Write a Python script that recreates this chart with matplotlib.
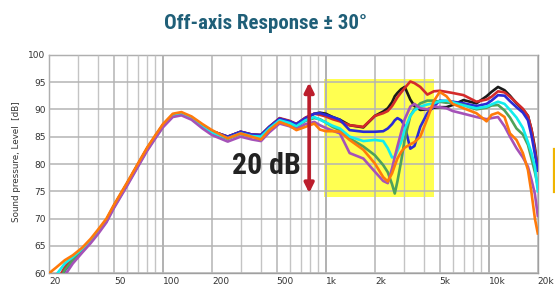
import numpy as np
import matplotlib.pyplot as plt
from matplotlib.lines import Line2D
from matplotlib.ticker import FixedLocator, NullFormatter
from matplotlib import font_manager

# frequency grid (Hz)
freqs = [20, 22, 25, 28, 32, 36, 40, 45, 50, 60,
         70, 80, 90, 100, 115, 130, 150, 175, 200, 250,
         300, 350, 400, 450, 520, 600, 660, 750, 850, 920,
         1000, 1100, 1220, 1400, 1700, 2000, 2250, 2400, 2550, 2650,
         2750, 2900, 3050, 3300, 3500, 3800, 4200, 4600, 5000, 5500,
         6000, 7000, 8400, 9700, 10400, 11400, 12500, 13500, 14800, 16200,
         17400, 18300, 19200, 20000]

# SPL per curve (dB)
black = [55.0, 57.5, 60.8, 62.6, 64.3, 66.0, 67.6, 69.7, 72.3, 76.3,
         79.8, 82.8, 85.1, 87.1, 89.0, 89.3, 88.5, 87.1, 86.0, 85.0,
         85.9, 85.4, 85.3, 86.8, 88.3, 87.8, 87.3, 88.4, 89.2, 89.4,
         89.2, 88.6, 88.1, 87.1, 86.7, 88.8, 89.6, 90.2, 91.3, 92.4,
         93.0, 93.7, 94.1, 91.8, 90.6, 89.9, 90.0, 90.3, 90.4, 90.4,
         90.8, 91.7, 91.1, 92.4, 93.2, 94.1, 93.5, 92.5, 91.1, 90.0,
         88.8, 86.3, 83.0, 78.8]
red = [55.5, 58.0, 61.2, 62.8, 64.4, 66.0, 67.6, 69.7, 72.3, 76.3,
       79.8, 82.8, 85.1, 87.1, 89.0, 89.3, 88.5, 87.1, 86.0, 85.0,
       85.9, 85.4, 85.3, 86.8, 88.4, 87.9, 87.3, 88.5, 89.2, 89.0,
       88.7, 88.2, 87.8, 87.1, 86.8, 88.8, 89.3, 89.7, 90.6, 91.4,
       92.2, 93.1, 93.9, 95.1, 94.8, 94.1, 92.7, 93.3, 93.4, 93.2,
       93.0, 92.6, 91.4, 91.8, 92.3, 93.3, 93.1, 92.3, 91.2, 90.1,
       88.8, 86.3, 82.5, 79.0]
blue = [55.0, 57.0, 60.5, 62.3, 64.1, 65.8, 67.5, 69.7, 72.3, 76.3,
        79.8, 82.8, 85.1, 87.1, 89.0, 89.3, 88.5, 87.1, 86.0, 85.0,
        85.9, 85.4, 85.3, 86.8, 88.3, 87.8, 87.3, 88.4, 89.2, 89.3,
        89.0, 88.6, 88.1, 86.2, 85.9, 85.9, 86.0, 86.5, 87.3, 88.0,
        88.4, 88.0, 87.0, 82.8, 83.3, 86.8, 89.3, 90.5, 91.6, 91.5,
        91.4, 91.1, 90.6, 91.0, 91.6, 92.6, 92.5, 91.5, 90.4, 89.4,
        88.0, 85.2, 81.8, 78.8]
green = [55.0, 57.3, 60.6, 62.4, 64.2, 65.9, 67.5, 69.5, 72.1, 76.1,
         79.6, 82.6, 84.9, 86.9, 88.8, 89.1, 88.3, 86.7, 85.6, 84.6,
         85.5, 85.0, 84.9, 86.4, 87.9, 87.4, 86.8, 87.9, 88.4, 88.2,
         87.6, 86.8, 86.2, 84.7, 83.2, 81.6, 79.8, 78.5, 76.3, 74.6,
         76.8, 80.5, 84.5, 88.8, 90.0, 91.1, 91.6, 91.6, 91.4, 91.2,
         91.2, 90.8, 90.0, 90.3, 90.7, 90.8, 89.8, 88.5, 86.5, 85.4,
         83.5, 81.0, 78.5, 76.0]
cyan = [57.7, 59.6, 61.8, 63.0, 64.5, 66.0, 67.6, 69.5, 72.1, 76.1,
        79.6, 82.6, 84.9, 86.9, 88.8, 89.1, 88.3, 86.8, 85.7, 84.7,
        85.6, 85.1, 85.0, 86.5, 88.0, 87.5, 86.9, 88.0, 88.6, 88.1,
        87.6, 87.0, 86.5, 85.0, 84.2, 84.4, 84.2, 82.9, 81.2, 81.3,
        82.4, 84.0, 86.4, 88.8, 89.8, 90.5, 90.9, 91.1, 91.5, 91.6,
        91.3, 90.7, 90.2, 90.5, 90.9, 91.4, 91.0, 89.9, 88.5, 86.6,
        84.0, 82.0, 79.5, 75.0]
purple = [54.0, 56.0, 59.6, 61.8, 63.8, 65.5, 67.2, 69.3, 71.9, 75.9,
          79.4, 82.4, 84.7, 86.7, 88.6, 88.9, 88.1, 86.5, 85.3, 84.1,
          85.0, 84.5, 84.2, 85.8, 87.4, 86.9, 86.4, 87.3, 87.7, 87.1,
          86.6, 86.1, 85.6, 82.0, 81.0, 78.6, 76.9, 76.5, 79.2, 81.3,
          83.2, 85.8, 88.2, 90.5, 91.0, 90.2, 90.0, 90.5, 90.4, 90.2,
          89.7, 89.2, 88.6, 88.2, 88.4, 88.6, 86.9, 85.0, 82.9, 81.2,
          79.5, 77.1, 74.5, 70.5]
orange = [60.0, 61.0, 62.4, 63.3, 64.7, 66.3, 68.0, 70.0, 72.5, 76.5,
          80.0, 83.0, 85.3, 87.3, 89.2, 89.5, 88.7, 87.3, 86.2, 84.7,
          85.6, 85.0, 84.5, 86.2, 87.7, 87.0, 86.2, 86.8, 87.4, 86.3,
          86.0, 86.0, 85.9, 84.4, 82.6, 80.1, 77.6, 76.8, 78.3, 79.7,
          81.0, 82.2, 83.0, 83.6, 84.0, 85.0, 88.3, 91.5, 93.2, 92.4,
          91.0, 90.2, 89.3, 87.8, 89.0, 89.4, 88.6, 85.6, 84.4, 82.0,
          78.9, 74.7, 70.0, 67.3]

curves = [black, red, blue, green, cyan, purple, orange]
colors = ['#1a1a1a', '#d42a2a', '#2b2bd6', '#4fa25a', '#12eded', '#a552b8', '#ff7a0a']

tick_freqs = [20, 50, 100, 200, 500, 1000, 2000, 5000, 10000, 20000]
tick_labels = ['20', '50', '100', '200', '500', '1k', '2k', '5k', '10k', '20k']

# pick a narrow bold face if one is installed
names = {f.name for f in font_manager.fontManager.ttflist}
narrow = None
for cand in ['Roboto Condensed', 'Liberation Sans Narrow', 'DejaVu Sans Condensed', 'Roboto']:
    if cand in names:
        narrow = cand
        break
is_condensed = narrow != 'Roboto'

fig = plt.figure(figsize=(5.55, 2.87), dpi=100)
ax = fig.add_axes([0.0883, 0.0477, 0.8807, 0.7617])

# yellow highlight
ax.axvspan(970, 4600, ymin=(74.0 - 60) / 40, ymax=(95.6 - 60) / 40,
           color='#ffff33', alpha=0.85, lw=0, zorder=1)

for vals, c in zip(curves, colors):
    ax.semilogx(freqs, vals, color=c, lw=1.9, zorder=3, solid_joinstyle='round')

ax.set_xlim(20, 20000)
ax.set_ylim(60, 100)
ax.xaxis.set_major_locator(FixedLocator(tick_freqs))
ax.set_xticklabels(tick_labels)
minor = [m * 10 ** e for e in range(1, 5) for m in range(1, 10)]
ax.xaxis.set_minor_locator(FixedLocator([v for v in minor if 20 <= v <= 20000]))
ax.xaxis.set_minor_formatter(NullFormatter())
ax.set_yticks(np.arange(60, 101, 5))
for lab in ax.get_xticklabels():
    lab.set_horizontalalignment('left')
ax.tick_params(axis='both', which='both', length=0, labelsize=6.5, colors='#333333', pad=2.5)
ax.grid(True, which='minor', axis='x', color='#c4c4c4', lw=1.0, zorder=2)
ax.grid(True, which='major', color='#b4b4b4', lw=1.1, zorder=2)
for f in [100, 1000, 10000]:
    ax.axvline(f, color='#a8a8a8', lw=1.3, zorder=2)
ax.set_axisbelow(False)
for s in ax.spines.values():
    s.set_color('#a0a0a0')
    s.set_linewidth(1.0)

fig.text(0.029, 0.437, 'Sound pressure, Level  [dB]', rotation=90,
         ha='center', va='center', fontsize=6.3, color='#333333')

# 20 dB arrow
ax.annotate('', xy=(790, 94.9), xytext=(790, 74.7),
            arrowprops=dict(arrowstyle='<|-|>', color='#bb1d2c', lw=2.6,
                            mutation_scale=14, shrinkA=0, shrinkB=0), zorder=5)
ax.text(433, 79.7, '20 dB', ha='center', va='center',
        fontsize=21.5 if is_condensed else 18.5,
        fontweight='bold', color='#222222', family=[narrow, 'DejaVu Sans'], zorder=6)

fig.text(0.478, 0.918, 'Off-axis Response ± 30°', ha='center', va='center',
         fontsize=15 if is_condensed else 13, fontweight='bold', color='#1f5f78',
         family=[narrow, 'DejaVu Sans'])

# clipped legend edge at right
fig.add_artist(Line2D([0.9985, 0.9985], [1 - 149 / 287, 1 - 192 / 287],
                      color='#f0b400', lw=1.6))

fig.savefig('out.png', dpi=100)
